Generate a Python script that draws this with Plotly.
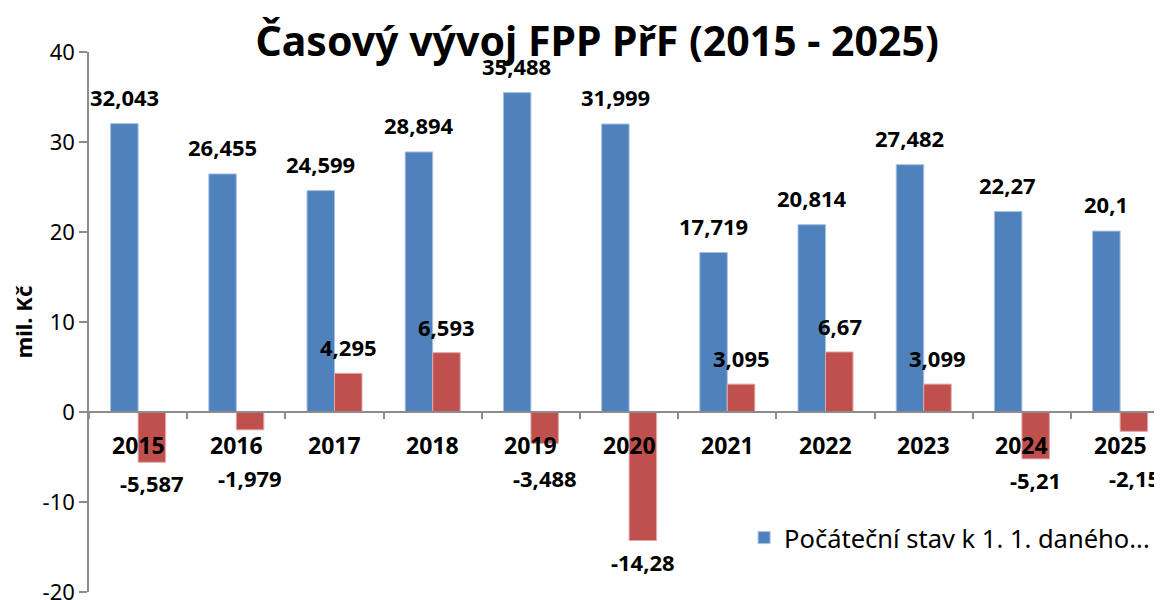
import plotly.graph_objects as go

years = ["2015", "2016", "2017", "2018", "2019", "2020", "2021", "2022", "2023", "2024", "2025"]
start_state = [32.043, 26.455, 24.599, 28.894, 35.488, 31.999, 17.719, 20.814, 27.482, 22.27, 20.1]
change = [-5.587, -1.979, 4.295, 6.593, -3.488, -14.28, 3.095, 6.67, 3.099, -5.21, -2.15]
start_labels = ["32,043", "26,455", "24,599", "28,894", "35,488", "31,999", "17,719", "20,814", "27,482", "22,27", "20,1"]
change_labels = ["-5,587", "-1,979", "4,295", "6,593", "-3,488", "-14,28", "3,095", "6,67", "3,099", "-5,21", "-2,15"]
y_ticks = [-20, -10, 0, 10, 20, 30, 40]
y_tick_labels = ["-20", "-10", "0", "10", "20", "30", "40"]
series_names = ["Počáteční stav k 1. 1. daného roku", "Změna stavu"]
legend_label = "Počáteční stav k 1. 1. daného..."

FONT = "Noto Sans, Open Sans, DejaVu Sans, sans-serif"
BLUE = "#4F81BD"
RED = "#C0504D"
AXIS = "#8c8c8c"

fig = go.Figure()
fig.add_trace(go.Bar(x=years, y=start_state, name=legend_label,
                     marker=dict(color=BLUE, line=dict(color="#a9c1e0", width=1)), showlegend=True))
fig.add_trace(go.Bar(x=years, y=change, name=series_names[1],
                     marker=dict(color=RED, line=dict(color="#e0a9a8", width=1)), showlegend=False))

label_font = dict(family=FONT, size=22, color="black", weight="bold")
annotations = []
# category labels sitting just under the zero line
for i, yr in enumerate(years):
    annotations.append(dict(x=i, y=0, xref="x", yref="y", text=yr, showarrow=False, yshift=-33,
                            xanchor="center", yanchor="middle",
                            font=dict(family=FONT, size=23, color="black", weight="bold")))
for i, (v, t) in enumerate(zip(start_state, start_labels)):
    annotations.append(dict(x=i, y=v, xref="x", yref="y", text=t, showarrow=False, xshift=-14, yshift=27,
                            xanchor="center", yanchor="middle", font=label_font))
for i, (v, t) in enumerate(zip(change, change_labels)):
    if v >= 0:
        annotations.append(dict(x=i, y=v, xref="x", yref="y", text=t, showarrow=False, xshift=14, yshift=26,
                                xanchor="center", yanchor="middle", font=label_font))
    else:
        annotations.append(dict(x=i, y=min(v, -5.0), xref="x", yref="y", text=t, showarrow=False, xshift=14,
                                yshift=-21, xanchor="center", yanchor="middle", font=label_font))

fig.update_layout(
    width=1162, height=600,
    margin=dict(l=81, r=0, t=44, b=16, autoexpand=False),
    paper_bgcolor="white", plot_bgcolor="white",
    barmode="group", bargap=0.44, bargroupgap=0,
    font=dict(family=FONT, size=22, color="black"),
    title=dict(text="<b>Časový vývoj FPP PřF (2015 - 2025)</b>", x=0.507, xanchor="center", y=1 - 34 / 600,
               yanchor="middle", yref="container", font=dict(family=FONT, size=41, color="black")),
    showlegend=True,
    legend=dict(x=0.606, y=0.1, xanchor="left", yanchor="middle", bgcolor="rgba(0,0,0,0)",
                font=dict(family=FONT, size=25.5, color="black"), itemwidth=30),
    annotations=annotations,
    hovermode=False,
)
fig.update_xaxes(
    type="category", range=[-0.5, 10.508], anchor="free", position=1/3, automargin=False,
    showline=True, linecolor=AXIS, linewidth=1.5,
    ticks="outside", tickson="boundaries", ticklen=6, tickcolor=AXIS, tickwidth=1.5,
    showticklabels=False, showgrid=False, zeroline=False,
)
fig.update_yaxes(
    range=[-20, 40], tickmode="array", tickvals=y_ticks, ticktext=y_tick_labels, automargin=False,
    showline=True, linecolor=AXIS, linewidth=1.5,
    ticks="outside", ticklen=8, tickcolor=AXIS, tickwidth=1.5,
    tickfont=dict(family=FONT, size=22, color="black"),
    showgrid=False, zeroline=False,
    title=dict(text="<b>mil. Kč</b>", font=dict(family=FONT, size=22, color="black"), standoff=16),
)

fig.write_html("out.html")
